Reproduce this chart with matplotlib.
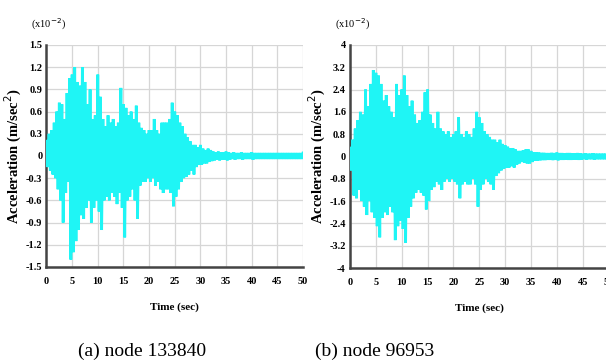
import matplotlib
matplotlib.use('Agg')
import matplotlib.pyplot as plt
import numpy as np

plt.rcParams['font.family'] = ['Liberation Serif', 'DejaVu Serif']

# peak values, one upper and one lower peak every 0.5 s (x10^-2 m/sec^2)
peak_times = np.arange(0, 50.01, 0.5)

node_a_upper = [0.2, 0.3, 0.35, 0.45, 0.6, 0.72, 0.7, 0.5, 0.85, 1.05,
                1.1, 1.2, 1.0, 0.95, 1.2, 1.0, 0.7, 0.9, 0.5, 0.55,
                1.1, 0.8, 0.5, 0.4, 0.55, 0.45, 0.5, 0.4, 0.45, 0.92,
                0.7, 0.65, 0.55, 0.6, 0.5, 0.68, 0.45, 0.38, 0.35, 0.3,
                0.35, 0.35, 0.5, 0.35, 0.3, 0.45, 0.45, 0.45, 0.5, 0.72,
                0.6, 0.55, 0.45, 0.4, 0.3, 0.25, 0.2, 0.15, 0.15, 0.12,
                0.15, 0.1, 0.08, 0.1, 0.08, 0.06, 0.05, 0.06, 0.05, 0.05,
                0.06, 0.05, 0.04, 0.05, 0.04, 0.04, 0.05, 0.04, 0.04, 0.04,
                0.05, 0.04, 0.04, 0.04, 0.04, 0.04, 0.04, 0.04, 0.04, 0.04,
                0.04, 0.04, 0.04, 0.04, 0.04, 0.04, 0.04, 0.04, 0.04, 0.04, 0.04]
node_a_lower = [-0.15, -0.2, -0.25, -0.3, -0.45, -0.6, -0.9, -0.5, -0.35, -1.4,
                -1.3, -1.15, -1.0, -0.8, -0.85, -0.7, -0.6, -0.9, -0.7, -0.6,
                -0.75, -1.0, -0.6, -0.55, -0.6, -0.5, -0.55, -0.65, -0.5, -0.7,
                -1.1, -0.6, -0.55, -0.45, -0.6, -0.85, -0.4, -0.35, -0.35, -0.3,
                -0.35, -0.3, -0.4, -0.35, -0.45, -0.5, -0.45, -0.45, -0.5, -0.68,
                -0.55, -0.45, -0.35, -0.3, -0.28, -0.25, -0.2, -0.25, -0.15, -0.12,
                -0.12, -0.1, -0.1, -0.08, -0.07, -0.06, -0.05, -0.06, -0.05, -0.05,
                -0.06, -0.05, -0.04, -0.05, -0.04, -0.04, -0.05, -0.04, -0.04, -0.04,
                -0.05, -0.04, -0.04, -0.04, -0.04, -0.04, -0.04, -0.04, -0.04, -0.04,
                -0.04, -0.04, -0.04, -0.04, -0.04, -0.04, -0.04, -0.04, -0.04, -0.04, -0.04]

node_b_upper = [0.3, 0.6, 1.0, 1.3, 1.6, 1.5, 2.4, 1.8, 2.6, 3.1,
                3.0, 2.9, 2.6, 2.0, 2.2, 1.8, 1.6, 1.4, 2.6, 2.2,
                2.4, 2.9, 2.2, 1.8, 2.0, 1.5, 1.2, 1.3, 1.6, 2.3,
                2.4, 1.5, 1.2, 1.0, 1.6, 1.0, 0.9, 0.8, 0.9, 0.7,
                0.8, 0.9, 1.4, 0.8, 0.7, 0.9, 0.8, 0.7, 1.0, 1.6,
                1.4, 1.2, 0.9, 0.8, 0.7, 0.6, 0.6, 0.5, 0.6, 0.45,
                0.4, 0.35, 0.3, 0.3, 0.25, 0.2, 0.2, 0.22, 0.25, 0.25,
                0.2, 0.15, 0.15, 0.14, 0.13, 0.13, 0.12, 0.12, 0.13, 0.12,
                0.14, 0.12, 0.12, 0.11, 0.12, 0.12, 0.11, 0.11, 0.12, 0.11,
                0.1, 0.11, 0.1, 0.1, 0.11, 0.1, 0.1, 0.1, 0.1, 0.1, 0.1]
node_b_lower = [-0.5, -1.4, -1.5, -1.2, -1.6, -1.8, -2.1, -1.6, -2.0, -2.2,
                -2.5, -2.9, -2.2, -2.0, -2.1, -1.8, -2.0, -3.0, -2.5, -2.3,
                -2.6, -3.1, -2.2, -1.8, -1.5, -1.3, -1.2, -1.3, -1.4, -1.9,
                -1.6, -1.2, -1.1, -0.9, -1.0, -1.2, -0.9, -0.8, -0.9, -0.8,
                -0.9, -1.0, -1.5, -1.0, -0.9, -1.0, -1.0, -0.8, -1.0, -1.8,
                -1.2, -1.0, -0.8, -0.9, -1.0, -1.2, -0.7, -0.6, -0.5, -0.45,
                -0.4, -0.4, -0.35, -0.4, -0.3, -0.25, -0.2, -0.22, -0.25, -0.25,
                -0.2, -0.15, -0.15, -0.14, -0.13, -0.13, -0.12, -0.12, -0.13, -0.12,
                -0.14, -0.12, -0.12, -0.11, -0.12, -0.12, -0.11, -0.11, -0.12, -0.11,
                -0.1, -0.11, -0.1, -0.1, -0.11, -0.1, -0.1, -0.1, -0.1, -0.1, -0.1]

x_ticks = [0, 5, 10, 15, 20, 25, 30, 35, 40, 45, 50]
a_yticks = [1.5, 1.2, 0.9, 0.6, 0.3, 0, -0.3, -0.6, -0.9, -1.2, -1.5]
a_ylabels = ['1.5', '1.2', '0.9', '0.6', '0.3', '0', '-0.3', '-0.6', '-0.9', '-1.2', '-1.5']
b_yticks = [4, 3.2, 2.4, 1.6, 0.8, 0, -0.8, -1.6, -2.4, -3.2, -4]
b_ylabels = ['4', '3.2', '2.4', '1.6', '0.8', '0', '-0.8', '-1.6', '-2.4', '-3.2', '-4']

captions = ['(a) node 133840', '(b) node 96953']


def zigzag(upper, lower):
    # upper peak at t, lower peak a quarter second later
    t = np.column_stack([peak_times, peak_times + 0.25]).ravel()
    v = np.column_stack([upper, lower]).ravel()
    keep = t <= 50
    return t[keep], v[keep]


fig = plt.figure(figsize=(6.06, 3.61), dpi=100)
ax1 = fig.add_axes([0.0767, 0.2604, 0.4233, 0.615])
ax2 = fig.add_axes([0.5776, 0.2576, 0.4266, 0.618])

panels = [(ax1, node_a_upper, node_a_lower, a_yticks, a_ylabels, 1.5),
          (ax2, node_b_upper, node_b_lower, b_yticks, b_ylabels, 4)]

for ax, up, lo, yt, yl, lim in panels:
    t, v = zigzag(up, lo)
    ax.plot(t, v, color='#1ff5f5', lw=2.0, zorder=3, solid_joinstyle='miter')
    ax.set_xlim(0, 50)
    ax.set_ylim(-lim, lim)
    ax.set_xticks(x_ticks)
    ax.set_xticklabels([str(x) for x in x_ticks], fontsize=7.5, fontweight='bold')
    ax.set_yticks(yt)
    ax.set_yticklabels(yl, fontsize=7.5, fontweight='bold')
    ax.tick_params(length=0)
    ax.tick_params(axis='x', pad=7)
    ax.tick_params(axis='y', pad=3)
    ax.grid(True, color='#d6d6d6', lw=0.9)
    ax.set_axisbelow(True)
    for s in ['top', 'right']:
        ax.spines[s].set_visible(False)
    for s in ['left', 'bottom']:
        ax.spines[s].set_color('#444444')
        ax.spines[s].set_linewidth(1.8)
    ax.set_xlabel('Time (sec)', fontsize=8, fontweight='bold', labelpad=12)
    ax.set_ylabel('Acceleration (m/sec$^2$)', fontsize=10.5, fontweight='bold', labelpad=1)
    ax.text(-0.06, 1.06, '(x10$^{-2}$)', transform=ax.transAxes, fontsize=7.5,
            ha='left', va='bottom')

fig.text(0.234, 0.028, captions[0], fontsize=14, ha='center', va='center')
fig.text(0.619, 0.028, captions[1], fontsize=14, ha='center', va='center')

fig.savefig('out.png', dpi=100, facecolor='white')
